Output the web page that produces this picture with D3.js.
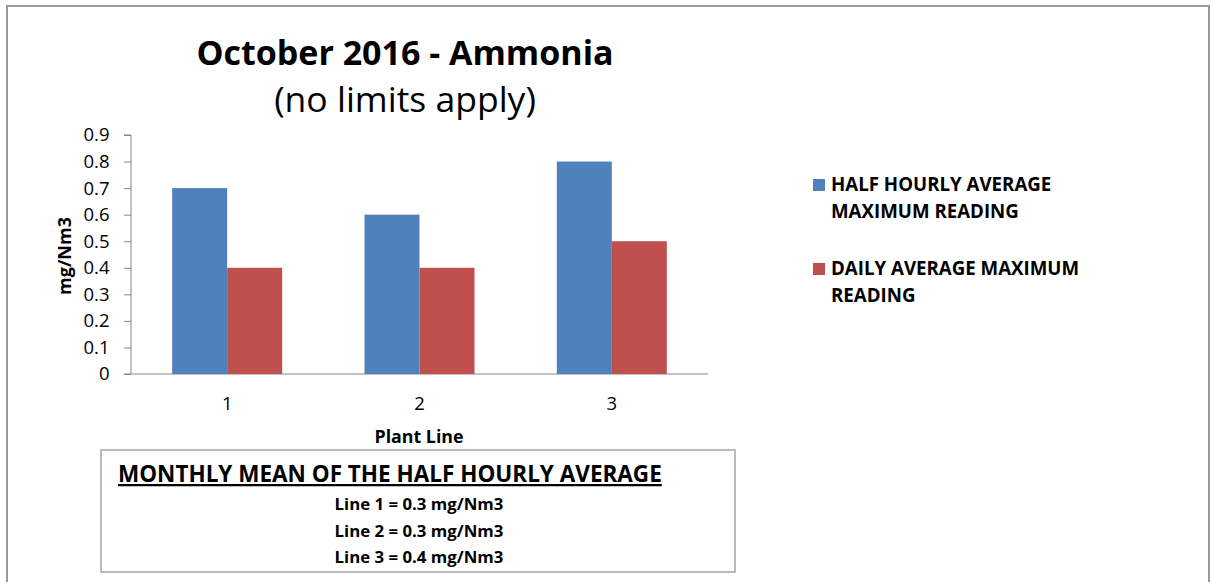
<!DOCTYPE html>
<html>
<head>
<meta charset="utf-8">
<script src="https://cdn.jsdelivr.net/npm/d3@7/dist/d3.min.js"></script>
<style>
  body { margin: 0; background: #fff; }
  svg { display: block; font-family: 'Open Sans', sans-serif; }
</style>
</head>
<body>
<svg id="chart" width="1211" height="582"></svg>
<script>
// chart data
const lines = ['1', '2', '3']
const halfHourly = [0.7, 0.6, 0.8]
const dailyAvg = [0.4, 0.4, 0.5]
const seriesNames = [['HALF HOURLY AVERAGE', 'MAXIMUM READING'], ['DAILY AVERAGE MAXIMUM', 'READING']]
const yTicks = [0, 0.1, 0.2, 0.3, 0.4, 0.5, 0.6, 0.7, 0.8, 0.9]
const monthlyMean = [0.3, 0.3, 0.4]

const colors = ['#4F81BD', '#C0504D']
const svg = d3.select('#chart')

// outer frame (open at the bottom)
svg.append('path')
  .attr('d', 'M7,582 V6 H1209 V582')
  .attr('fill', 'none')
  .attr('stroke', '#999')
  .attr('stroke-width', 2)

// titles
svg.append('text').attr('x', 405).attr('y', 65)
  .attr('text-anchor', 'middle').attr('font-size', 34).attr('font-weight', 'bold')
  .text('October 2016 - Ammonia')
svg.append('text').attr('x', 405).attr('y', 112)
  .attr('text-anchor', 'middle').attr('font-size', 35.5)
  .text('(no limits apply)')

// scales
const pLeft = 131, pRight = 708, pTop = 135, pBottom = 374
const x = d3.scaleBand().domain(lines).range([pLeft, pRight])
const y = d3.scaleLinear().domain([0, 0.9]).range([pBottom, pTop])
const barW = 55

const g = svg.append('g')

// y axis
const yAxis = g.append('g')
  .attr('transform', `translate(${pLeft},0)`)
  .call(d3.axisLeft(y).tickValues(yTicks).tickFormat(d => d === 0 ? '0' : d3.format('.1f')(d)).tickSize(7).tickPadding(14.5))
yAxis.select('.domain').attr('stroke', '#868686').attr('d', `M-7,${pTop}H0V${pBottom}`)
yAxis.selectAll('.tick line').attr('stroke', '#868686')
yAxis.selectAll('text').attr('font-size', 18.5).attr('fill', '#000').attr('font-family', "'Open Sans', sans-serif")

// x axis
const xAxis = g.append('g')
  .attr('transform', `translate(0,${pBottom})`)
  .call(d3.axisBottom(x).tickSize(0).tickPadding(23))
xAxis.select('.domain').attr('stroke', '#868686').attr('d', `M${pLeft - 7},0H${pRight}`)
xAxis.selectAll('text').attr('font-size', 18.5).attr('fill', '#000').attr('font-family', "'Open Sans', sans-serif")

// bars
const series = [halfHourly, dailyAvg]
series.forEach((vals, s) => {
  g.selectAll('.bar' + s)
    .data(vals)
    .join('rect')
    .attr('class', 'bar' + s)
    .attr('x', (v, i) => x(lines[i]) + x.bandwidth() / 2 - barW + s * barW)
    .attr('y', v => y(v))
    .attr('width', barW)
    .attr('height', v => pBottom - y(v))
    .attr('fill', colors[s])
})

// axis titles
svg.append('text')
  .attr('transform', 'translate(71,256) rotate(-90)')
  .attr('text-anchor', 'middle').attr('font-size', 18).attr('font-weight', 'bold')
  .text('mg/Nm3')
svg.append('text').attr('x', 419).attr('y', 443)
  .attr('text-anchor', 'middle').attr('font-size', 17.8).attr('font-weight', 'bold')
  .text('Plant Line')

// legend
const legend = svg.append('g')
seriesNames.forEach((name, s) => {
  const ly = 179 + s * 84
  legend.append('rect').attr('x', 813).attr('y', ly).attr('width', 12).attr('height', 12).attr('fill', colors[s])
  name.forEach((t, k) => {
    legend.append('text').attr('x', 831).attr('y', ly + 12 + k * 27)
      .attr('font-size', 18.7).attr('font-weight', 'bold')
      .text(t)
  })
})

// monthly mean box
svg.append('rect').attr('x', 101).attr('y', 450).attr('width', 634).attr('height', 122)
  .attr('fill', 'none').attr('stroke', '#bbb').attr('stroke-width', 2)
svg.append('text').attr('x', 118).attr('y', 482)
  .attr('font-size', 22.5).attr('font-weight', 'bold').attr('text-decoration', 'underline')
  .text('MONTHLY MEAN OF THE HALF HOURLY AVERAGE')
monthlyMean.forEach((m, i) => {
  svg.append('text').attr('x', 419).attr('y', 510 + i * 26.5)
    .attr('text-anchor', 'middle').attr('font-size', 16.8).attr('font-weight', 'bold')
    .text(`Line ${i + 1} = ${m} mg/Nm3`)
})
</script>
</body>
</html>
